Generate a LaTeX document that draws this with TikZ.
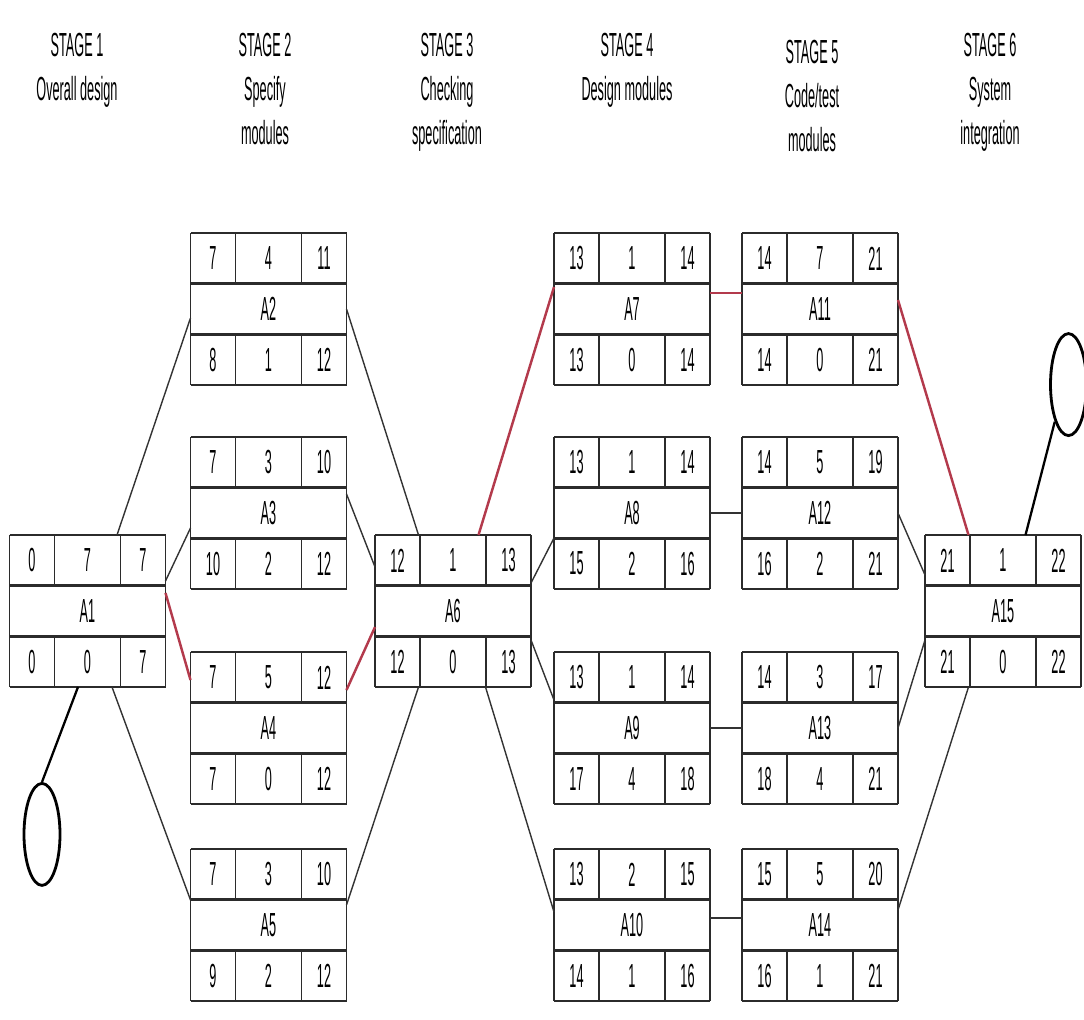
\documentclass[tikz,border=0pt]{standalone}
\usepackage{fontspec}
\setmainfont{Liberation Sans}[FakeStretch=0.38]
\usepackage{tikz}
\usetikzlibrary{positioning, calc, shapes.geometric}
\definecolor{critred}{HTML}{B33A4C}
\definecolor{gridline}{HTML}{2B2B2B}

% one activity box: name, placement, ES, D, EF, LS, TF, LF
\newcommand{\activity}[8]{%
  \node[act, #2] (#1) {};
  \node[num] (#1-es) at ([xshift=0.45cm,yshift=-0.507cm]#1.north west) {#3};
  \node[num] (#1-d)  at ([yshift=-0.507cm]#1.north) {#4};
  \node[num] (#1-ef) at ([xshift=-0.45cm,yshift=-0.507cm]#1.north east) {#5};
  \node[num] (#1-id) at (#1.center) {#1};
  \node[num] (#1-ls) at ([xshift=0.45cm,yshift=0.507cm]#1.south west) {#6};
  \node[num] (#1-tf) at ([yshift=0.507cm]#1.south) {#7};
  \node[num] (#1-lf) at ([xshift=-0.45cm,yshift=0.507cm]#1.south east) {#8};
  \draw[vline] (#1.north west) -- (#1.south west) (#1.north east) -- (#1.south east);
  \draw[vline] ([xshift=0.9cm]#1.north west) -- ++(0,-1.013)
               ([xshift=-0.9cm]#1.north east) -- ++(0,-1.013)
               ([xshift=0.9cm]#1.south west) -- ++(0,1.013)
               ([xshift=-0.9cm]#1.south east) -- ++(0,1.013);
  \draw[hline] (#1.north west) -- (#1.north east)
               ([yshift=-1.013cm]#1.north west) -- ([yshift=-1.013cm]#1.north east)
               ([yshift=1.013cm]#1.south west) -- ([yshift=1.013cm]#1.south east)
               (#1.south west) -- (#1.south east);
}

\begin{document}
\begin{tikzpicture}[
    act/.style={rectangle, minimum width=3.12cm, minimum height=3.04cm, inner sep=0pt, outer sep=0pt},
    num/.style={inner sep=0pt, font=\fontsize{19}{23}\selectfont},
    stage/.style={align=center, anchor=north, inner sep=0pt, font=\fontsize{19}{25}\selectfont},
    hline/.style={line width=1.5pt, draw=gridline},
    vline/.style={line width=0.7pt, draw=gridline},
    event/.style={ellipse, draw, line width=1.6pt, minimum width=0.72cm, minimum height=2.04cm, inner sep=0pt},
    link/.style={line width=0.8pt, draw=black!80},
    crit/.style={line width=1.4pt, draw=critred},
    eventlink/.style={line width=1.3pt},
]
\useasboundingbox (0,0) rectangle (21.68,-20.38);

% stage headings
\node[stage] (s1) at (1.54,-0.66) {STAGE 1\\Overall design};
\node[stage] (s2) at (5.30,-0.66) {STAGE 2\\Specify\\modules};
\node[stage] (s3) at (8.94,-0.66) {STAGE 3\\Checking\\specification};
\node[stage] (s4) at (12.54,-0.66) {STAGE 4\\Design modules};
\node[stage] (s5) at (16.24,-0.80) {STAGE 5\\Code/test\\modules};
\node[stage] (s6) at (19.80,-0.66) {STAGE 6\\System\\integration};

% activities
\activity{A1}{at={(1.75,-12.22)}}{0}{7}{7}{0}{0}{7}
\activity{A2}{above right=3.0cm and 0.5cm of A1}{7}{4}{11}{8}{1}{12}
\activity{A3}{below=1.04cm of A2}{7}{3}{10}{10}{2}{12}
\activity{A4}{below=1.26cm of A3}{7}{5}{12}{7}{0}{12}
\activity{A5}{below=0.9cm of A4}{7}{3}{10}{9}{2}{12}
\activity{A6}{right=4.19cm of A1}{12}{1}{13}{12}{0}{13}
\activity{A7}{above right=3.0cm and 0.46cm of A6}{13}{1}{14}{13}{0}{14}
\activity{A8}{below=1.04cm of A7}{13}{1}{14}{15}{2}{16}
\activity{A9}{below=1.26cm of A8}{13}{1}{14}{17}{4}{18}
\activity{A10}{below=0.9cm of A9}{13}{2}{15}{14}{1}{16}
\activity{A11}{right=0.64cm of A7}{14}{7}{21}{14}{0}{21}
\activity{A12}{right=0.64cm of A8}{14}{5}{19}{16}{2}{21}
\activity{A13}{right=0.64cm of A9}{14}{3}{17}{18}{4}{21}
\activity{A14}{right=0.64cm of A10}{15}{5}{20}{16}{1}{21}
\activity{A15}{below right=3.0cm and 0.54cm of A11}{21}{1}{22}{21}{0}{22}

% start and finish events
\node[event, below=1.9cm of A1, xshift=-0.91cm] (start) {};
\node[event, above=1.96cm of A15, xshift=1.31cm] (finish) {};

% links
\draw[eventlink] (start.north) -- ($(A1.south)+(-0.19,0)$);
\draw[link] ($(A1.north)+(0.59,0)$) -- ($(A2.west)+(0,-0.18)$);
\draw[link] ($(A1.east)+(0,0.6)$) -- ($(A3.west)+(0,-0.3)$);
\draw[crit] ($(A1.east)+(0,0.36)$) -- ($(A4.west)+(0,0.96)$);
\draw[link] ($(A1.south)+(0.49,0)$) -- ($(A5.west)+(0,0.5)$);

\draw[link] (A2.east) -- ($(A6.north)+(-0.69,0)$);
\draw[link] ($(A3.east)+(0,0.38)$) -- ($(A6.west)+(0,0.88)$);
\draw[crit] ($(A4.east)+(0,0.76)$) -- ($(A6.west)+(0,-0.32)$);
\draw[link] ($(A5.east)+(0,0.4)$) -- ($(A6.south)+(-0.69,0)$);

\draw[crit] ($(A6.north)+(0.51,0)$) -- ($(A7.west)+(0,0.44)$);
\draw[link] ($(A6.east)+(0,0.56)$) -- ($(A8.west)+(0,-0.5)$);
\draw[link] ($(A6.east)+(0,-0.58)$) -- ($(A9.west)+(0,0.56)$);
\draw[link] ($(A6.south)+(0.65,0)$) -- ($(A10.west)+(0,0.26)$);

\draw[crit] ($(A7.east)+(0,0.32)$) -- ($(A11.west)+(0,0.32)$);
\draw[link] (A8.east) -- (A12.west);
\draw[link] (A9.east) -- (A13.west);
\draw[link] ($(A10.east)+(0,0.14)$) -- ($(A14.west)+(0,0.14)$);

\draw[crit] ($(A11.east)+(0,0.18)$) -- ($(A15.north)+(-0.69,0)$);
\draw[link] (A12.east) -- ($(A15.west)+(0,0.72)$);
\draw[link] (A13.east) -- ($(A15.west)+(0,-0.58)$);
\draw[link] ($(A14.east)+(0,0.3)$) -- ($(A15.south)+(-0.69,0)$);
\draw[eventlink] ($(A15.north)+(0.45,0)$) -- (finish.south west);

\end{tikzpicture}
\end{document}
